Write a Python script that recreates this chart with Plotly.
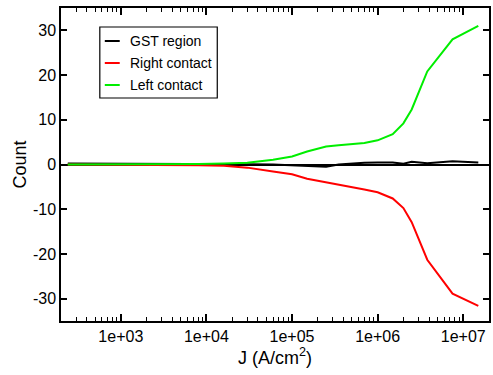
import numpy as np
import plotly.graph_objects as go

# ---- data ----
J = [240, 500, 1e3, 2e3, 4e3, 8e3, 1.6e4, 3e4, 6e4, 1e5, 1.5e5, 2.5e5, 3.5e5,
     5e5, 7e5, 1e6, 1.5e6, 2e6, 2.5e6, 3.8e6, 7.5e6, 1.5e7]
gst_region = [0.2, 0.2, 0.2, 0.2, 0.2, 0.15, 0.1, 0.05, 0.0, -0.2, -0.3, -0.5, 0.0,
              0.22, 0.38, 0.45, 0.45, 0.15, 0.6, 0.3, 0.74, 0.45]
right_contact = [0.0, 0.0, 0.0, -0.03, -0.07, -0.15, -0.3, -0.7, -1.56, -2.2, -3.2,
                 -3.95, -4.5, -5.06, -5.6, -6.2, -7.6, -9.75, -12.9, -21.3, -28.9, -31.6]
left_contact = [0.0, 0.0, 0.0, 0.02, 0.05, 0.1, 0.2, 0.4, 1.05, 1.8, 2.9, 4.0, 4.3,
                4.5, 4.8, 5.4, 6.8, 9.2, 12.3, 20.8, 28.0, 31.0]

series_names = ["GST region", "Right contact", "Left contact"]
series_colors = ["#000000", "#ff0000", "#00ee00"]
series_values = [gst_region, right_contact, left_contact]

x_tickvals = [1e3, 1e4, 1e5, 1e6, 1e7]
x_ticktext = ["1e+03", "1e+04", "1e+05", "1e+06", "1e+07"]
y_tickvals = [-30, -20, -10, 0, 10, 20, 30]
y_ticktext = ["-30", "-20", "-10", "0", "10", "20", "30"]

FONT = "Liberation Sans, Arial, Helvetica, sans-serif"
XRANGE = [np.log10(200), np.log10(2e7)]

fig = go.Figure()
for name, color, vals in zip(series_names, series_colors, series_values):
    fig.add_trace(go.Scatter(x=J, y=vals, mode="lines", name=name,
                             line=dict(color=color, width=2), showlegend=False))
# empty trace to activate the minor-tick axis
fig.add_trace(go.Scatter(x=[], y=[], xaxis="x2", yaxis="y", showlegend=False,
                         hoverinfo="skip"))

minor_vals = [m * 10 ** d for d in range(2, 8) for m in range(2, 10)]

fig.update_layout(
    xaxis=dict(type="log", range=XRANGE,
               tickmode="array", tickvals=x_tickvals, ticktext=x_ticktext,
               ticks="inside", ticklen=7, tickwidth=1.5, tickcolor="black",
               showline=True, linecolor="black", linewidth=1.5, mirror="ticks",
               showgrid=False, zeroline=False,
               tickfont=dict(family=FONT, size=16, color="black"),
               title=dict(text="J (A/cm<sup>2</sup>)", standoff=6,
                          font=dict(family=FONT, size=18, color="black"))),
    xaxis2=dict(type="log", range=XRANGE, overlaying="x", anchor="y", side="bottom",
                tickmode="array", tickvals=minor_vals, ticktext=[""] * len(minor_vals),
                showticklabels=False,
                ticks="inside", ticklen=4, tickwidth=1.2, tickcolor="black",
                mirror="ticks", showline=False, showgrid=False, zeroline=False),
    yaxis=dict(range=[-35, 35], tickmode="array", tickvals=y_tickvals, ticktext=y_ticktext,
               ticks="inside", ticklen=6, tickwidth=1.5, tickcolor="black",
               showline=True, linecolor="black", linewidth=1.5, mirror="ticks",
               showgrid=False, zeroline=True, zerolinecolor="black", zerolinewidth=1.5,
               tickfont=dict(family=FONT, size=16, color="black"),
               title=dict(text="Count", standoff=2,
                          font=dict(family=FONT, size=18, color="black"))),
)

# ---- custom legend box ----
L, R, T, B = 61, 491, 8, 321
W, H = R - L, B - T
px = lambda x: (x - L) / W
py = lambda y: 1 - (y - T) / H
fig.add_shape(type="rect", xref="paper", yref="paper",
              x0=px(100), x1=px(218), y0=py(98), y1=py(27),
              line=dict(color="black", width=1.2), fillcolor="white")
rows = [41, 63, 85]
for name, color, yy in zip(series_names, series_colors, rows):
    fig.add_shape(type="line", xref="paper", yref="paper",
                  x0=px(105), x1=px(120), y0=py(yy), y1=py(yy),
                  line=dict(color=color, width=2))
    fig.add_annotation(xref="paper", yref="paper", x=px(128), y=py(yy),
                       text=name, showarrow=False, xanchor="left", yanchor="middle",
                       font=dict(family=FONT, size=14, color="black"))

fig.update_layout(width=493, height=375,
                  margin=dict(l=L, r=493 - R, t=T, b=375 - B),
                  paper_bgcolor="white", plot_bgcolor="white",
                  showlegend=False)

fig.write_html("out.html")
